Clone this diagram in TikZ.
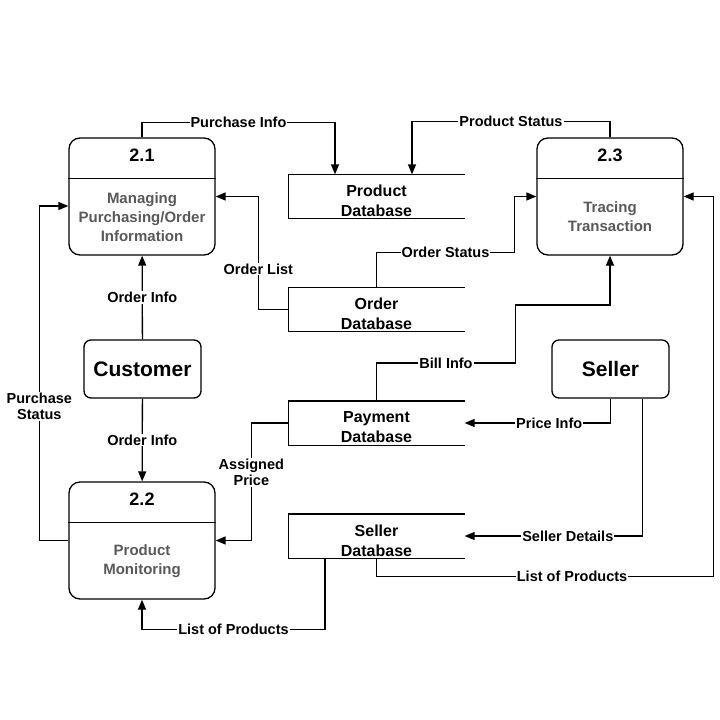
\documentclass[tikz,border=0pt]{standalone}
\usepackage{fontspec}
\setmainfont{Liberation Sans}
\usetikzlibrary{arrows.meta,positioning}

\begin{document}
\begin{tikzpicture}[x=1pt,y=-1pt,line width=1.3pt,>={Triangle[length=10pt,width=8pt]},
  proc/.style={draw,rounded corners=11pt,minimum width=146pt,minimum height=117pt},
  procnum/.style={font=\bfseries\fontsize{18}{20}\selectfont},
  proctext/.style={text=black!65,align=center,font=\bfseries\fontsize{15}{19}\selectfont},
  ext/.style={draw,rounded corners=7pt,minimum width=117pt,minimum height=58pt,font=\bfseries\fontsize{21}{24}\selectfont},
  store/.style={minimum width=175pt,minimum height=43pt},
  storetext/.style={align=center,font=\bfseries\fontsize{16}{20}\selectfont},
  lbl/.style={fill=white,inner sep=1pt,align=center,font=\bfseries\fontsize{14.5}{16}\selectfont}]
  \useasboundingbox (0,0) rectangle (720,720);
  % processes
  \node[proc] (p1) at (142,196.5) {};
  \node[proc] (p2) at (142,540.5) {};
  \node[proc] (p3) at (610,196.5) {};
  \foreach \p/\n in {p1/2.1,p2/2.2,p3/2.3} {
    \draw ([yshift=-41pt]\p.north west) -- ([yshift=-41pt]\p.north east);
    \node[procnum,below=18pt of \p.north,anchor=center] {\n};
  }
  \node[proctext] at (142,217) {Managing\\Purchasing/Order\\Information};
  \node[proctext] at (142,561) {Product\\Monitoring};
  \node[proctext] at (610,217) {Tracing\\Transaction};
  % external entities
  \node[ext] (cust) at (142.5,369) {Customer};
  \node[ext] (seller) at (610.5,369) {Seller};
  % data stores
  \node[store] (pdb) at (376.5,196.5) {};
  \node[store] (odb) at (376.5,309.5) {};
  \node[store] (paydb) at (376.5,423) {};
  \node[store] (sdb) at (376.5,536) {};
  \foreach \s/\t in {pdb/Product,odb/Order,paydb/Payment,sdb/Seller} {
    \draw (\s.north east) -- (\s.north west) -- (\s.south west) -- (\s.south east);
    \node[storetext] at ([yshift=-4.5pt]\s.center) {\t\\Database};
  }
  % flows
  \draw[->] (p1.north) -- ++(0,-15) -| node[lbl,pos=.25] {Purchase Info} ([xshift=-41.5pt]pdb.north);
  \draw[->] (p3.north) -- ++(0,-16) -| node[lbl,pos=.25] {Product Status} ([xshift=35.5pt]pdb.north);
  \draw[->] (odb.west) -- ++(-30,0) |- node[lbl,pos=.18] {Order List} (p1.east);
  \draw[->] (odb.north) -- ++(0,-35) -| node[lbl,pos=.25] {Order Status} ([xshift=-22pt]p3.west) -- (p3.west);
  \draw[->] (paydb.north) -- ++(0,-38) -| node[lbl,pos=.25] {Bill Info} ++(139,-58) -| (p3.south);
  \draw[->] (cust) -- node[lbl] {Order Info} (p1);
  \draw[->] (cust) -- node[lbl] {Order Info} (p2);
  \draw[->] (p2.west) -- ++(-29,0) |- node[lbl,pos=.2] {Purchase\\Status} ([yshift=-9.5pt]p1.west);
  \draw[->] (paydb.west) -- ++(-37,0) |- node[lbl,pos=.21] {Assigned\\Price} (p2.east);
  \draw[->] ([xshift=-51.5pt]sdb.south) -- ++(0,71) -| node[lbl,pos=.25] {List of Products} (p2.south);
  \draw[->] (seller.south) |- node[lbl,pos=.71] {Price Info} (paydb.east);
  \draw[->] ([xshift=32pt]seller.south) |- node[lbl,pos=.71] {Seller Details} (sdb.east);
  \draw[->] (sdb.south) -- ++(0,18) -| node[lbl,pos=.29] {List of Products} ([xshift=30pt]p3.east) -- (p3.east);
\end{tikzpicture}
\end{document}
